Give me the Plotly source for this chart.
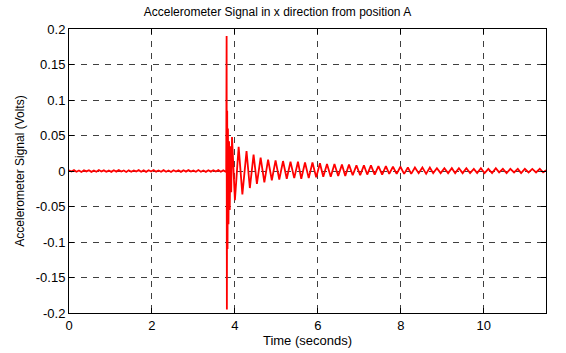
import numpy as np
import plotly.graph_objects as go

# ---- data ----
# pre-impact noise (sampled every 0.06 s from t = 0)
pre_values = [0.0010, -0.0008, 0.0012, -0.0011, 0.0007, -0.0013, 0.0009, -0.0006,
              0.0011, -0.0012, 0.0008, -0.0010, 0.0013, -0.0007, 0.0009, -0.0011,
              0.0006, -0.0012, 0.0010, -0.0009, 0.0012, -0.0008, 0.0007, -0.0013,
              0.0011, -0.0010, 0.0008, -0.0006, 0.0012, -0.0011, 0.0009, -0.0012,
              0.0010, -0.0008, 0.0013, -0.0009, 0.0007, -0.0011, 0.0012, -0.0010,
              0.0008, -0.0013, 0.0011, -0.0007, 0.0009, -0.0012, 0.0010, -0.0009,
              0.0012, -0.0008, 0.0006, -0.0011, 0.0013, -0.0010, 0.0008, -0.0012,
              0.0011, -0.0009, 0.0010, -0.0007, 0.0012, -0.0011, 0.0009, -0.0010]
pre_dt = 0.06

# impact spike
impact_t = [3.790, 3.800, 3.806, 3.814, 3.822, 3.832, 3.845, 3.860, 3.875, 3.895, 3.910]
impact_v = [0.000, 0.190, -0.195, 0.085, -0.110, 0.060, -0.075, 0.042, -0.055, 0.035, -0.030]

# decaying oscillation: successive peaks / troughs
osc_t = [3.93, 4.00, 4.09, 4.18, 4.28, 4.36, 4.45, 4.53, 4.62, 4.71,
         4.80, 4.89, 4.98, 5.07, 5.16, 5.25, 5.34, 5.43, 5.52, 5.60,
         5.69, 5.78, 5.87, 5.96, 6.05, 6.13, 6.22, 6.31, 6.40, 6.49,
         6.58, 6.66, 6.75, 6.84, 6.93, 7.02, 7.11, 7.19, 7.28, 7.37,
         7.46, 7.55, 7.64, 7.72, 7.81, 7.90, 7.99, 8.08, 8.17, 8.25,
         8.34, 8.43, 8.52, 8.61, 8.70, 8.78, 8.87, 8.96, 9.05, 9.14,
         9.23, 9.31, 9.40, 9.49, 9.58, 9.67, 9.76, 9.84, 9.93, 10.02,
         10.11, 10.20, 10.29, 10.37, 10.46, 10.55, 10.64, 10.73, 10.82, 10.90,
         10.99, 11.08, 11.17, 11.26, 11.35, 11.43, 11.50]
osc_v = [0.048, -0.041, 0.034, -0.033, 0.028, -0.024, 0.023, -0.018, 0.019, -0.016,
         0.016, -0.013, 0.015, -0.012, 0.014, -0.011, 0.013, -0.010, 0.013, -0.011,
         0.012, -0.010, 0.012, -0.009, 0.011, -0.008, 0.010, -0.008, 0.010, -0.007,
         0.009, -0.007, 0.009, -0.006, 0.008, -0.006, 0.008, -0.005, 0.008, -0.005,
         0.007, -0.005, 0.007, -0.004, 0.006, -0.004, 0.006, -0.004, 0.005, -0.004,
         0.005, -0.003, 0.005, -0.004, 0.005, -0.003, 0.004, -0.003, 0.004, -0.003,
         0.004, -0.003, 0.004, -0.003, 0.004, -0.003, 0.003, -0.003, 0.004, -0.003,
         0.003, -0.003, 0.004, -0.002, 0.003, -0.003, 0.003, -0.002, 0.003, -0.003,
         0.003, -0.002, 0.003, -0.002, 0.003, -0.002, 0.001]

x_ticks = [0, 2, 4, 6, 8, 10]
x_ticktext = ["0", "2", "4", "6", "8", "10"]
y_ticks = [-0.2, -0.15, -0.1, -0.05, 0, 0.05, 0.1, 0.15, 0.2]
y_ticktext = ["-0.2", "-0.15", "-0.1", "-0.05", "0", "0.05", "0.1", "0.15", "0.2"]

# ---- build series ----
pre_t = list(np.arange(len(pre_values)) * pre_dt)
t_all = pre_t + impact_t + osc_t
v_all = pre_values + impact_v + osc_v

fig = go.Figure()
fig.add_trace(go.Scatter(x=t_all, y=v_all, mode="lines",
                         line=dict(color="#ff0000", width=1.8),
                         hoverinfo="skip"))

axis_common = dict(showline=True, linecolor="black", linewidth=1, mirror="ticks",
                   ticks="inside", ticklen=5, tickcolor="black",
                   showgrid=True, gridcolor="#404040", gridwidth=1,
                   griddash="6px,6px", zeroline=False,
                   tickfont=dict(size=13, color="black"))

fig.update_xaxes(range=[0, 11.5], tickvals=x_ticks, ticktext=x_ticktext,
                 title=dict(text="Time (seconds)", font=dict(size=13, color="black"),
                            standoff=3),
                 **axis_common)
fig.update_yaxes(range=[-0.2, 0.2], tickvals=y_ticks, ticktext=y_ticktext,
                 title=dict(text="Accelerometer Signal (Volts)",
                            font=dict(size=12, color="black"), standoff=8),
                 **axis_common)

W, H = 566, 353
fig.update_layout(
    width=W, height=H,
    margin=dict(l=69, r=20, t=29, b=40, autoexpand=False),
    paper_bgcolor="white", plot_bgcolor="white",
    showlegend=False,
    font=dict(family="Liberation Sans, Arial, sans-serif", size=13, color="black"),
    title=dict(text="Accelerometer Signal in x direction from position A",
               font=dict(size=12, color="black"),
               x=277.5 / W, xref="container", xanchor="center",
               y=1 - 12 / H, yref="container", yanchor="middle"),
)

# remove the page's default body margin so the figure sits at the window's top-left
fig.write_html("out.html",
               config={"displayModeBar": False},
               post_script="document.body.style.margin='0';"
                           "document.body.style.overflow='hidden';")
